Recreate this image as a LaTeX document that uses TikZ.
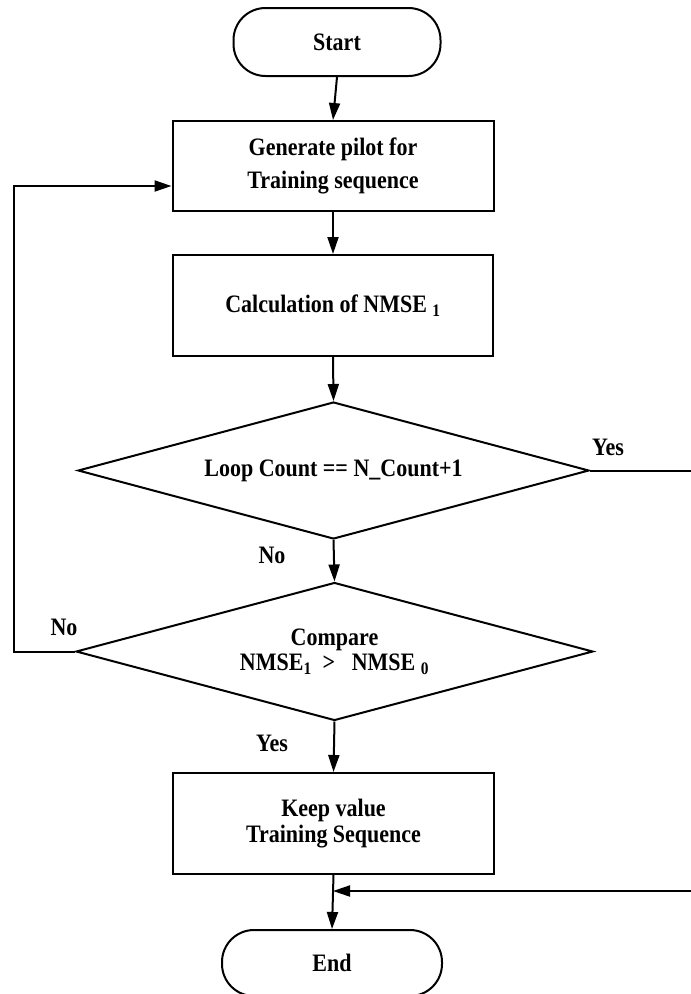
\documentclass[tikz,border=0pt]{standalone}
\usepackage{fontspec}
\usepackage{graphicx}
\setmainfont{Liberation Serif}
\usetikzlibrary{shapes.geometric,arrows.meta}
\newcommand\vt[1]{\scalebox{1}[1.14]{#1}}
\begin{document}
\setlength{\lineskiplimit}{-100pt}%
\begin{tikzpicture}[x=1pt,y=-1pt,
  every node/.style={font=\bfseries\fontsize{22}{30}\selectfont},
  base/.style={draw,line width=2pt,inner sep=0pt,align=center},
  term/.style={base,rounded corners=32pt},
  proc/.style={base},
  decide/.style={base,shape=diamond,aspect=3.7},
  lbl/.style={inner sep=0pt},
  conn/.style={line width=2pt},
  arr/.style={conn,-{Triangle[length=17pt,width=11pt]}}]
\useasboundingbox (0,0) rectangle (691,994);
\node[term,minimum width=207pt,minimum height=68pt] (start) at (337,42) {\vt{Start}};
\node[proc,minimum width=321pt,minimum height=90pt,font=\bfseries\fontsize{22}{33}\selectfont] (gen) at (333,166) {\vt{Generate pilot for}\\\vt{Training sequence}};
\node[proc,minimum width=320pt,minimum height=101pt] (calc) at (333,305.5) {\vt{Calculation of NMSE \textsubscript{1}}};
\node[decide,minimum width=511pt,minimum height=137pt] (d1) at (333.5,470.5) {\vt{Loop Count == N\_Count+1}};
\node[decide,minimum width=517pt,minimum height=138pt,font=\bfseries\fontsize{22}{25.5}\selectfont] (d2) at (334.5,651.5) {\vt{Compare}\\\vt{NMSE\textsubscript{1}~~>~~~NMSE \textsubscript{0}}};
\node[proc,minimum width=321pt,minimum height=101pt,font=\bfseries\fontsize{22}{26.5}\selectfont] (keep) at (333.5,823.5) {\vt{Keep value}\\\vt{Training Sequence}};
\node[term,minimum width=220pt,minimum height=66pt] (end) at (332,963) {\vt{End}};
\node[lbl] (no1) at (272,555) {\vt{No}};
\node[lbl] (yes1) at (608,447) {\vt{Yes}};
\node[lbl] (no2) at (64,627) {\vt{No}};
\node[lbl] (yes2) at (272,743) {\vt{Yes}};
\coordinate (loopL) at (14,186);
\coordinate (rightB) at (697,891);
\coordinate (join) at (333,891);
\draw[arr] (start.south) -- (gen.north);
\draw[arr] (gen.south) -- (calc.north);
\draw[arr] (calc.south) -- (d1.north);
\draw[arr] (d1.south) -- (d2.north);
\draw[arr] (d2.south) -- (keep.north);
\draw[arr] (keep.south) -- (end.north);
\draw[arr] (d2.west) -- (loopL |- d2.west) -- (loopL) -- (loopL -| gen.west);
\draw[arr] (d1.east) -- (rightB |- d1.east) -- (rightB) -- (join);
\end{tikzpicture}
\end{document}
